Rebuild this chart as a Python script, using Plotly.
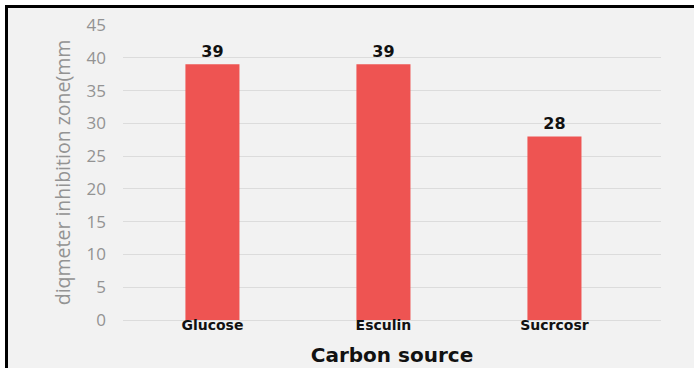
import plotly.graph_objects as go

# Inhibition zone diameter per carbon source
categories = ["Glucose", "Esculin", "Sucrcosr"]
values = [39, 39, 28]
y_ticks = [0, 5, 10, 15, 20, 25, 30, 35, 40, 45]

W, H = 694, 368
ML, MR, MT, MB = 123, 33, 25, 48
pw, ph = W - ML - MR, H - MT - MB


def px_x(x):
    return (x - ML) / pw


def px_y(y):
    return (H - MB - y) / ph


fig = go.Figure(
    go.Bar(
        x=categories,
        y=values,
        width=0.316,
        marker=dict(color="#EE5452", line=dict(width=0)),
        text=values,
        texttemplate="%{text}",
        textposition="outside",
        textfont=dict(family="DejaVu Sans", size=16, color="#111111", weight="bold"),
        cliponaxis=False,
    )
)

fig.update_layout(
    width=W,
    height=H,
    margin=dict(l=ML, r=MR, t=MT, b=MB, autoexpand=False),
    paper_bgcolor="white",
    plot_bgcolor="rgba(0,0,0,0)",
    showlegend=False,
    shapes=[
        dict(
            type="rect", xref="paper", yref="paper", layer="below",
            x0=px_x(6.5), x1=px_x(710), y0=px_y(390), y1=px_y(6.5),
            fillcolor="#F2F2F2", line=dict(color="#000000", width=3),
        )
    ],
    annotations=[
        dict(
            text="plate (Figure 3)", xref="paper", yref="paper",
            x=px_x(75), y=px_y(2.5), xanchor="left", yanchor="bottom",
            showarrow=False, font=dict(family="Liberation Serif", size=16, color="#000000"),
        )
    ],
)

fig.update_xaxes(
    type="category",
    range=[-0.523, 2.623],
    showgrid=False,
    showline=False,
    zeroline=False,
    ticks="",
    ticklabelstandoff=-5,
    tickfont=dict(family="DejaVu Sans", size=14, color="#111111", weight="bold"),
    title=dict(
        text="Carbon source",
        font=dict(family="DejaVu Sans", size=20, color="#111111", weight="bold"),
        standoff=15,
    ),
    automargin=False,
)

fig.update_yaxes(
    range=[0, 45],
    tickvals=y_ticks,
    showgrid=True,
    gridcolor="#DCDCDC",
    gridwidth=1,
    zeroline=True,
    zerolinecolor="#DCDCDC",
    zerolinewidth=1,
    showline=False,
    ticks="",
    ticklabelstandoff=16,
    tickfont=dict(family="Open Sans", size=17, color="#939393"),
    title=dict(
        text="diqmeter inhibition zone(mm",
        font=dict(family="Open Sans", size=19.5, color="#939393"),
        standoff=10,
    ),
    automargin=False,
)

fig.write_html("out.html")
